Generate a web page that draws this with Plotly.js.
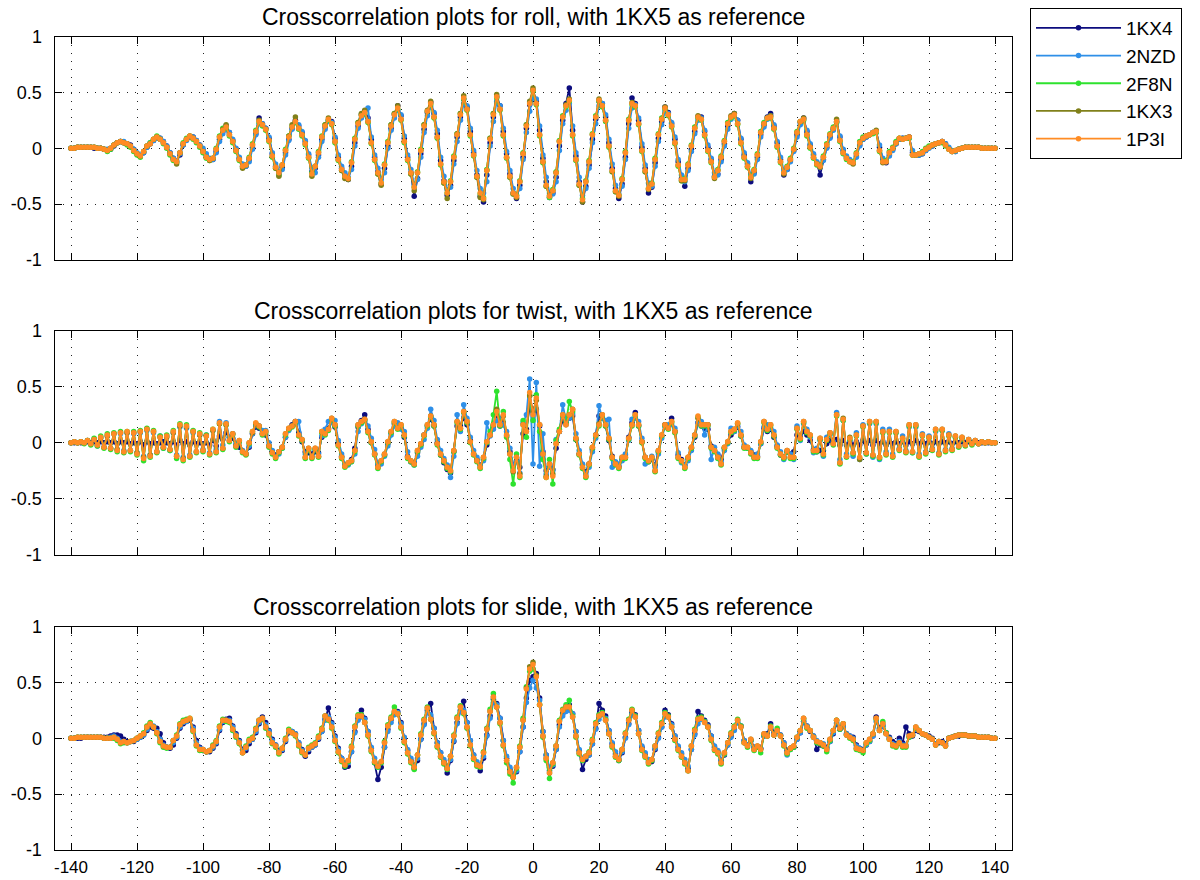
<!DOCTYPE html>
<html><head><meta charset="utf-8">
<script src="https://cdn.plot.ly/plotly-3.0.1.min.js"></script>
<style>body{margin:0;background:#fff}#chart{width:1200px;height:880px}</style>
</head><body><div id="chart"></div>
<script>
// lag axis (integer lags -140..140)
const lags = [];
for (let i = -140; i <= 140; i++) lags.push(i);

const seriesNames = ['1KX4', '2NZD', '2F8N', '1KX3', '1P3I'];
const panelTitles = [
  'Crosscorrelation plots for roll, with 1KX5 as reference',
  'Crosscorrelation plots for twist, with 1KX5 as reference',
  'Crosscorrelation plots for slide, with 1KX5 as reference'
];
const xTickVals = [-140,-120,-100,-80,-60,-40,-20,0,20,40,60,80,100,120,140];
const xTickText = ['-140','-120','-100','-80','-60','-40','-20','0','20','40','60','80','100','120','140'];
const yTickVals = [-1,-0.5,0,0.5,1];
const yTickText = ['-1','-0.5','0','0.5','1'];

// ---------- ROLL ----------
const roll_1KX4 = [
0,0,.01,.01,.01,.01,.01,0,0,0,
-.01,-.02,-.01,.02,.05,.06,.05,.04,.03,-.01,
-.05,-.07,-.04,.01,.04,.07,.10,.09,.06,.02,
-.04,-.09,-.12,-.06,.03,.08,.10,.10,.07,.03,
-.02,-.07,-.10,-.10,-.03,.08,.15,.20,.14,.07,
-.01,-.09,-.16,-.16,-.10,.01,.13,.27,.22,.18,
.09,-.05,-.16,-.23,-.17,-.04,.08,.18,.25,.20,
.14,.06,-.06,-.21,-.18,-.06,.08,.19,.25,.24,
.09,-.08,-.18,-.24,-.28,-.16,.05,.20,.30,.33,
.27,.08,-.08,-.21,-.32,-.18,.02,.18,.30,.38,
.29,.09,-.08,-.22,-.43,-.27,-.05,.17,.32,.41,
.31,.13,-.11,-.29,-.42,-.33,-.11,.10,.28,.44,
.37,.15,-.04,-.24,-.43,-.48,-.24,.05,.28,.46,
.38,.15,-.05,-.23,-.40,-.45,-.33,-.08,.18,.39,
.52,
.42,.16,-.09,-.30,-.44,-.40,-.26,.02,.25,.40,
.54,.16,-.07,-.30,-.48,-.34,-.15,.08,.26,.42,
.40,.28,.05,-.18,-.36,-.45,-.32,-.08,.22,.45,
.40,.25,.01,-.18,-.40,-.35,-.13,.09,.24,.37,
.32,.22,.08,-.12,-.27,-.34,-.18,-.01,.15,.28,
.28,.15,.01,-.10,-.25,-.23,-.10,.04,.20,.28,
.31,.25,.08,-.06,-.14,-.30,-.22,-.08,.12,.21,
.28,.31,.20,.05,-.10,-.24,-.19,-.11,-.02,.12,
.23,.27,.15,.03,-.06,-.13,-.24,-.10,.01,.10,
.17,.24,.10,-.02,-.08,-.11,-.13,-.07,.03,.08,
.10,.12,.14,.15,.01,-.10,-.13,-.06,-.01,.04,
.08,.09,.09,.10,-.04,-.06,-.06,-.05,-.02,.01,
.02,.04,.05,.06,.04,0,-.03,-.03,-.01,0,
.01,.01,.01,.01,.01,0,0,0,0,0];
const roll_2NZD = [
0,0,.01,.01,.01,.01,.01,.01,0,0,
-.01,-.01,0,.03,.05,.06,.06,.04,.02,-.01,
-.04,-.06,-.04,.01,.05,.07,.09,.09,.06,.02,
-.04,-.09,-.11,-.05,.03,.07,.10,.10,.07,.03,
0,-.05,-.09,-.10,-.04,.06,.13,.17,.14,.08,
0,-.08,-.14,-.16,-.12,-.01,.12,.22,.22,.18,
.10,-.04,-.14,-.21,-.19,-.06,.07,.17,.23,.21,
.15,.07,-.05,-.18,-.22,-.08,.06,.17,.24,.23,
.10,-.06,-.16,-.22,-.26,-.19,.02,.18,.27,.30,
.36,.10,-.06,-.18,-.28,-.22,0,.16,.27,.34,
.30,.11,-.06,-.19,-.32,-.28,-.08,.14,.29,.37,
.32,.16,-.08,-.25,-.37,-.35,-.14,.06,.25,.40,
.38,.18,-.02,-.20,-.36,-.40,-.30,.02,.24,.42,
.38,.18,-.03,-.20,-.36,-.42,-.36,-.10,.14,.33,
.45,
.44,.20,-.06,-.26,-.40,-.41,-.30,-.02,.22,.34,
.40,.20,-.04,-.26,-.42,-.36,-.18,.05,.22,.38,
.40,.30,.08,-.14,-.33,-.41,-.34,-.10,.18,.36,
.39,.27,.04,-.15,-.31,-.34,-.16,.06,.21,.33,
.31,.23,.10,-.10,-.24,-.30,-.20,-.03,.13,.25,
.27,.16,.03,-.09,-.22,-.24,-.12,.02,.17,.26,
.29,.25,.09,-.04,-.13,-.24,-.23,-.10,.10,.19,
.26,.29,.21,.06,-.08,-.20,-.19,-.12,-.03,.10,
.21,.26,.16,.04,-.05,-.12,-.17,-.11,0,.09,
.16,.23,.11,-.01,-.07,-.10,-.13,-.08,.02,.08,
.10,.12,.14,.14,.03,-.09,-.12,-.07,-.02,.04,
.08,.09,.09,.09,-.02,-.06,-.06,-.05,-.02,0,
.02,.04,.05,.06,.04,.01,-.02,-.03,-.01,0,
.01,.01,.01,.01,.01,0,0,0,0,0];
const roll_2F8N = [
0,0,.01,.01,.01,.01,.01,.01,0,0,
-.01,-.03,-.01,.03,.05,.06,.05,.03,.01,-.03,
-.06,-.08,-.03,.02,.05,.08,.11,.08,.04,0,
-.06,-.11,-.13,-.04,.05,.09,.11,.08,.05,.01,
-.04,-.09,-.11,-.09,0,.11,.18,.18,.11,.05,
-.03,-.11,-.17,-.15,-.08,.04,.16,.23,.20,.16,
.06,-.08,-.18,-.24,-.15,-.01,.11,.20,.23,.17,
.11,.03,-.09,-.22,-.16,-.03,.11,.21,.25,.21,
.05,-.11,-.20,-.26,-.27,-.12,.09,.23,.30,.31,
.23,.04,-.11,-.23,-.31,-.14,.06,.21,.31,.35,
.25,.05,-.11,-.23,-.35,-.21,-.01,.21,.33,.39,
.27,.09,-.15,-.31,-.40,-.29,-.07,.13,.31,.44,
.34,.11,-.07,-.26,-.41,-.44,-.19,.09,.31,.45,
.34,.11,-.09,-.26,-.41,-.42,-.29,-.04,.21,.41,
.51,
.39,.11,-.13,-.34,-.44,-.37,-.21,.07,.29,.37,
.42,.11,-.11,-.33,-.45,-.29,-.11,.13,.29,.42,
.37,.24,.01,-.21,-.39,-.42,-.27,-.03,.26,.39,
.37,.21,-.03,-.21,-.36,-.31,-.09,.13,.27,.35,
.29,.19,.04,-.16,-.29,-.27,-.14,.03,.19,.27,
.25,.11,-.03,-.13,-.26,-.19,-.07,.07,.23,.27,
.29,.21,.04,-.09,-.17,-.25,-.19,-.05,.15,.23,
.27,.27,.17,.01,-.13,-.22,-.16,-.09,0,.15,
.24,.25,.11,0,-.09,-.15,-.15,-.07,.04,.13,
.19,.23,.06,-.05,-.10,-.12,-.12,-.04,.06,.10,
.11,.12,.13,.14,-.03,-.12,-.11,-.03,.01,.06,
.09,.08,.09,.09,-.06,-.06,-.05,-.03,0,.02,
.03,.04,.05,.05,.02,-.01,-.03,-.02,-.01,0,
.01,.01,.01,.01,.01,0,0,0,0,0];
const roll_1KX3 = [
0,0,.01,.01,.01,.01,.01,.01,0,0,
-.01,-.02,0,.03,.05,.06,.05,.04,.02,-.02,
-.05,-.07,-.03,.02,.04,.08,.10,.08,.05,.01,
-.05,-.10,-.14,-.04,.04,.08,.11,.09,.06,.02,
-.03,-.08,-.11,-.09,-.01,.10,.17,.21,.12,.06,
-.02,-.10,-.18,-.15,-.09,.03,.15,.25,.21,.17,
.07,-.07,-.18,-.25,-.15,-.02,.11,.21,.28,.18,
.12,.04,-.08,-.25,-.16,-.04,.10,.21,.27,.22,
.06,-.10,-.20,-.27,-.28,-.13,.08,.23,.31,.34,
.24,.05,-.10,-.23,-.33,-.15,.05,.21,.31,.38,
.26,.06,-.10,-.23,-.38,-.22,-.02,.21,.34,.42,
.28,.10,-.14,-.31,-.45,-.30,-.08,.13,.31,.47,
.35,.12,-.06,-.26,-.44,-.46,-.20,.09,.31,.48,
.35,.12,-.08,-.26,-.41,-.44,-.30,-.05,.21,.42,
.54,
.40,.12,-.12,-.34,-.42,-.38,-.22,.06,.28,.39,
.44,.12,-.10,-.33,-.48,-.30,-.12,.12,.28,.44,
.38,.25,.02,-.21,-.39,-.43,-.28,-.04,.25,.41,
.38,.22,-.02,-.21,-.37,-.32,-.10,.12,.26,.37,
.30,.20,.05,-.15,-.29,-.29,-.15,.02,.18,.29,
.26,.12,-.02,-.12,-.27,-.20,-.08,.06,.22,.29,
.31,.22,.05,-.08,-.16,-.27,-.20,-.06,.14,.22,
.27,.29,.18,.02,-.12,-.23,-.17,-.10,-.01,.14,
.24,.27,.12,.01,-.08,-.14,-.17,-.08,.03,.12,
.18,.26,.07,-.04,-.09,-.12,-.14,-.05,.05,.09,
.11,.12,.14,.16,-.02,-.13,-.12,-.04,0,.05,
.09,.08,.09,.10,-.06,-.06,-.05,-.04,-.01,.01,
.03,.04,.05,.06,.03,-.01,-.03,-.02,-.01,0,
.01,.01,.01,.01,.01,0,0,0,0,0];
const roll_1P3I = [
0,0,.01,.01,.01,.01,.01,.01,0,0,
-.01,-.02,0,.03,.05,.06,.05,.04,.02,-.02,
-.05,-.07,-.03,.02,.04,.08,.10,.08,.05,.01,
-.05,-.10,-.12,-.04,.04,.08,.11,.09,.06,.02,
-.03,-.08,-.10,-.09,-.01,.10,.16,.19,.12,.06,
-.02,-.10,-.16,-.15,-.09,.03,.15,.24,.21,.17,
.07,-.07,-.17,-.22,-.15,-.02,.10,.19,.24,.18,
.12,.04,-.08,-.23,-.16,-.04,.10,.20,.26,.22,
.06,-.10,-.19,-.25,-.27,-.13,.08,.22,.29,.32,
.24,.05,-.10,-.22,-.31,-.15,.05,.20,.30,.36,
.26,.06,-.10,-.22,-.35,-.22,-.02,.20,.33,.40,
.28,.10,-.14,-.30,-.40,-.30,-.08,.12,.30,.45,
.35,.12,-.06,-.25,-.40,-.45,-.20,.08,.30,.46,
.35,.12,-.08,-.25,-.40,-.43,-.30,-.05,.20,.40,
.52,
.40,.12,-.12,-.33,-.43,-.38,-.22,.06,.28,.38,
.43,.12,-.10,-.32,-.46,-.30,-.12,.12,.28,.43,
.38,.25,.02,-.20,-.38,-.42,-.28,-.04,.25,.40,
.38,.22,-.02,-.20,-.36,-.32,-.10,.12,.26,.36,
.30,.20,.05,-.15,-.28,-.28,-.15,.02,.18,.28,
.26,.12,-.02,-.12,-.26,-.20,-.08,.06,.22,.28,
.30,.22,.05,-.08,-.16,-.26,-.20,-.06,.14,.22,
.27,.28,.18,.02,-.12,-.22,-.17,-.10,-.01,.14,
.24,.26,.12,.01,-.08,-.14,-.16,-.08,.03,.12,
.18,.24,.07,-.04,-.09,-.12,-.13,-.05,.05,.09,
.11,.12,.14,.15,-.02,-.12,-.12,-.04,0,.05,
.09,.08,.09,.10,-.06,-.06,-.05,-.04,-.01,.01,
.03,.04,.05,.06,.03,-.01,-.03,-.02,-.01,0,
.01,.01,.01,.01,.01,0,0,0,0,0];

// ---------- TWIST ----------
const twist_1KX4 = [
0,0,0,0,0,.01,0,.01,0,.01,
0,.01,0,.01,-.01,.01,0,.01,-.01,0,
-.01,.01,-.02,.01,-.01,0,-.01,0,.01,0,
-.01,.01,-.02,.02,-.01,.01,-.02,.01,-.01,0,
-.01,0,-.02,.02,-.03,.06,.03,.09,.05,.04,
-.02,-.04,-.08,-.10,-.04,.08,.14,.13,.08,.07,
-.03,-.08,-.11,-.08,-.04,.05,.12,.16,.19,.09,
.01,-.08,-.09,-.10,-.08,-.09,.05,.09,.13,.19,
.14,-.01,-.12,-.20,-.19,-.15,-.05,.14,.20,.25,
.12,0,-.10,-.20,-.17,-.11,-.01,.09,.17,.15,
.13,.05,-.12,-.17,-.18,-.09,-.02,.07,.15,.21,
.15,0,-.11,-.18,-.24,-.27,-.08,.15,.15,.22,
.16,.02,-.10,-.15,-.20,-.15,-.02,.07,.15,.22,
.15,.18,.06,-.08,-.20,-.16,-.22,.08,.12,.32,
.30,
.30,.15,-.08,-.25,-.21,-.24,-.05,.10,.20,.18,
.22,.24,.03,-.10,-.20,-.26,-.19,-.06,.07,.24,
.22,.15,.02,-.12,-.18,-.21,-.15,-.11,.05,.18,
.27,.15,.01,-.13,-.17,-.15,-.20,-.08,.06,.16,
.15,.22,.10,-.11,-.15,-.20,-.14,-.05,.05,.18,
.15,.13,.12,-.03,-.07,-.11,-.15,-.05,0,.07,
.10,.14,.06,-.04,-.05,-.08,-.11,-.12,-.01,.13,
.10,.12,.05,-.03,-.11,-.13,-.08,-.10,-.08,.07,
.05,.10,.07,.02,-.06,-.08,-.07,-.07,-.01,.02,
0,.03,-.02,.02,-.02,.01,-.02,.01,-.02,.02,
-.01,.02,-.02,.02,-.01,.01,-.02,.01,-.01,.01,
-.01,.01,-.02,.01,-.01,.02,-.01,.01,-.01,.01,
-.01,.01,-.01,.01,0,.01,-.01,.01,0,.01,
0,.01,0,.01,0,0,0,0,0,0];
const twist_2NZD = [
0,.01,0,.01,0,.02,-.01,.03,-.03,.05,
-.04,.06,-.05,.08,-.06,.08,-.07,.09,-.07,.08,
-.09,.09,-.12,.11,-.11,.09,-.08,.06,-.05,.06,
-.07,.09,-.11,.14,-.13,.13,-.11,.09,-.08,.07,
-.06,.07,-.09,.11,-.06,.19,-.02,.18,.05,.08,
-.01,.01,-.07,-.10,-.03,.08,.16,.15,.11,.11,
0,-.07,-.12,-.10,-.05,.05,.11,.15,.17,.19,
.02,-.10,-.07,-.12,-.06,-.10,.06,.12,.19,.18,
.20,.02,-.10,-.20,-.20,-.17,-.10,.10,.17,.20,
.15,.04,-.06,-.19,-.19,-.12,-.03,.07,.15,.18,
.12,.10,-.08,-.17,-.20,-.12,-.04,.03,.13,.30,
.20,.03,-.07,-.14,-.20,-.31,-.12,.25,.10,.34,
.22,.05,-.07,-.13,-.20,-.16,.18,.06,.12,.20,
.22,.16,.10,-.05,-.20,-.17,-.27,.18,.25,.57,
-.19,
.54,-.21,.08,-.28,-.22,-.25,.03,.10,.34,.20,
.22,.26,.08,-.07,-.19,-.28,-.22,-.08,.04,.33,
.22,.20,.21,-.22,-.17,-.19,-.16,-.10,.02,.21,
.22,.19,.04,-.19,-.16,-.12,-.22,-.10,.04,.14,
.16,.16,.13,-.09,-.18,-.20,-.16,-.07,.07,.18,
.19,.07,.16,-.15,-.04,-.10,-.17,-.07,-.01,.13,
.10,.15,.10,-.02,-.05,-.07,-.12,-.10,-.01,.14,
.16,.13,.10,-.02,-.08,-.15,-.08,-.10,-.15,.15,
.02,.17,.12,.05,-.09,-.05,.02,-.12,.05,.07,
.01,.27,-.15,.20,-.10,.02,-.12,.09,-.15,.16,
-.10,.17,-.13,.17,-.15,.12,-.08,.12,-.10,.09,
-.05,.06,-.07,.14,-.09,.14,-.10,.08,-.08,.06,
-.05,.10,-.09,.11,-.06,.08,-.05,.05,-.03,.04,
-.02,.03,-.01,.02,-.01,.01,0,.01,0,0];
const twist_2F8N = [
0,.01,0,.01,-.01,.02,-.02,.04,-.03,.06,
-.05,.08,-.06,.09,-.08,.10,-.09,.10,-.08,.10,
-.11,.11,-.16,.13,-.13,.11,-.09,.06,-.05,.07,
-.07,.11,-.14,.17,-.16,.16,-.13,.11,-.09,.09,
-.08,.07,-.11,.12,-.09,.17,-.06,.16,.01,.07,
-.04,.01,-.09,-.11,-.01,.10,.17,.14,.07,.09,
-.04,-.10,-.14,-.09,-.05,.07,.12,.14,.18,.06,
.02,-.14,-.06,-.14,-.06,-.13,.09,.07,.11,.21,
.15,-.03,-.14,-.22,-.19,-.17,-.08,.15,.18,.20,
.09,0,-.11,-.23,-.17,-.11,0,.09,.18,.12,
.15,.06,-.14,-.17,-.20,-.08,-.02,.06,.15,.23,
.15,-.02,-.11,-.17,-.23,-.26,-.08,.18,.12,.27,
.18,0,-.11,-.17,-.23,-.14,0,.10,.25,.46,
.15,.28,.05,-.15,-.37,-.10,-.31,.20,.05,.42,
.20,
.43,.10,-.15,-.31,-.15,-.37,.02,.12,.24,.18,
.37,.28,.03,-.11,-.23,-.31,-.20,-.05,.06,.15,
.24,.15,.03,-.14,-.20,-.23,-.14,-.14,.03,.15,
.24,.15,0,-.14,-.17,-.14,-.26,-.08,.06,.15,
.12,.18,.09,-.14,-.17,-.23,-.14,-.05,.06,.23,
.15,.15,.15,-.05,-.08,-.14,-.20,-.05,0,.09,
.11,.17,.06,-.05,-.05,-.10,-.14,-.14,0,.18,
.11,.15,.06,-.05,-.11,-.14,-.08,-.14,-.14,.12,
.03,.18,.09,.06,-.08,-.08,.03,-.11,.02,.08,
-.02,.24,-.19,.20,-.13,.03,-.10,.06,-.14,.14,
-.10,.18,-.12,.18,-.14,.09,-.11,.09,-.13,.09,
-.07,.03,-.09,.15,-.09,.15,-.13,.06,-.10,.04,
-.07,.11,-.11,.11,-.08,.06,-.07,.05,-.04,.04,
-.03,.02,-.02,.01,-.01,.01,0,.01,0,0];
const twist_1KX3 = [
0,.01,0,.01,0,.02,-.01,.03,-.02,.04,
-.04,.06,-.05,.08,-.06,.09,-.08,.09,-.07,.09,
-.09,.10,-.13,.12,-.11,.10,-.08,.05,-.04,.05,
-.06,.09,-.12,.15,-.14,.14,-.12,.10,-.08,.07,
-.07,.06,-.10,.11,-.08,.17,-.05,.16,.02,.08,
-.03,.02,-.08,-.10,0,.09,.17,.15,.08,.10,
-.03,-.09,-.13,-.08,-.04,.08,.13,.15,.19,.07,
.03,-.13,-.05,-.13,-.05,-.12,.10,.08,.12,.22,
.16,-.02,-.13,-.21,-.18,-.16,-.07,.16,.19,.21,
.10,.01,-.10,-.22,-.16,-.10,.01,.10,.19,.13,
.16,.07,-.13,-.16,-.19,-.07,-.01,.07,.16,.24,
.16,-.01,-.10,-.16,-.22,-.25,-.07,.19,.13,.28,
.19,.01,-.10,-.16,-.22,-.13,.01,.07,.16,.30,
.16,.24,.07,-.10,-.26,-.13,-.28,.16,.10,.42,
.28,
.38,.16,-.10,-.30,-.19,-.28,-.01,.10,.25,.16,
.25,.30,.04,-.10,-.22,-.30,-.19,-.04,.07,.17,
.25,.16,.04,-.13,-.19,-.22,-.13,-.13,.04,.16,
.25,.16,.01,-.13,-.16,-.13,-.25,-.07,.07,.16,
.13,.19,.10,-.13,-.16,-.22,-.13,-.04,.07,.22,
.16,.16,.16,-.04,-.07,-.13,-.19,-.04,.01,.10,
.12,.17,.07,-.04,-.04,-.09,-.13,-.13,.01,.19,
.12,.16,.07,-.04,-.10,-.13,-.07,-.13,-.13,.13,
.04,.19,.10,.07,-.07,-.07,.04,-.10,.03,.09,
-.01,.25,-.18,.22,-.12,.05,-.09,.07,-.15,.15,
-.09,.19,-.11,.19,-.13,.10,-.10,.10,-.12,.10,
-.06,.04,-.08,.16,-.08,.16,-.12,.07,-.09,.05,
-.06,.12,-.10,.12,-.07,.07,-.06,.06,-.03,.05,
-.02,.03,-.01,.02,-.01,.01,0,.01,0,0];
const twist_1P3I = [
0,.01,0,.01,0,.02,-.01,.03,-.02,.05,
-.04,.07,-.05,.08,-.07,.09,-.08,.10,-.07,.09,
-.10,.10,-.14,.12,-.12,.10,-.08,.05,-.04,.06,
-.06,.10,-.12,.16,-.15,.15,-.12,.10,-.08,.08,
-.07,.06,-.10,.12,-.08,.18,-.05,.17,.02,.08,
-.03,.02,-.08,-.10,0,.10,.18,.15,.08,.10,
-.03,-.09,-.13,-.08,-.04,.08,.13,.15,.19,.07,
.03,-.13,-.05,-.13,-.05,-.12,.10,.08,.12,.22,
.16,-.02,-.13,-.21,-.18,-.16,-.07,.16,.19,.21,
.10,.01,-.10,-.22,-.16,-.10,.01,.10,.19,.13,
.16,.07,-.13,-.16,-.19,-.07,-.01,.07,.16,.24,
.16,-.01,-.10,-.16,-.22,-.25,-.07,.19,.13,.28,
.19,.01,-.10,-.16,-.22,-.13,.01,.07,.16,.28,
.16,.25,.07,-.10,-.25,-.13,-.30,.16,.10,.45,
.25,
.40,.16,-.10,-.31,-.19,-.30,-.01,.10,.25,.16,
.25,.30,.04,-.10,-.22,-.30,-.19,-.04,.07,.16,
.25,.16,.04,-.13,-.19,-.22,-.13,-.13,.04,.16,
.25,.16,.01,-.13,-.16,-.13,-.25,-.07,.07,.16,
.13,.19,.10,-.13,-.16,-.22,-.13,-.04,.07,.24,
.16,.16,.16,-.04,-.07,-.13,-.19,-.04,.01,.10,
.12,.18,.07,-.04,-.04,-.09,-.13,-.13,.01,.19,
.12,.16,.07,-.04,-.10,-.13,-.07,-.13,-.13,.13,
.04,.19,.10,.07,-.07,-.07,.04,-.10,.03,.09,
-.01,.25,-.18,.21,-.12,.04,-.09,.07,-.13,.15,
-.09,.19,-.11,.19,-.13,.10,-.10,.10,-.12,.10,
-.06,.04,-.08,.16,-.08,.16,-.12,.07,-.09,.05,
-.06,.12,-.10,.12,-.07,.07,-.06,.06,-.03,.05,
-.02,.03,-.01,.02,-.01,.01,0,.01,0,0];

// ---------- SLIDE ----------
const slide_1KX4 = [
0,0,0,0,.01,.01,.01,.01,.01,.01,
.01,.01,.02,.03,.03,.02,-.01,-.03,-.03,-.03,
-.01,.01,.03,.07,.10,.09,.09,.04,-.04,-.08,
-.09,-.06,0,.09,.13,.15,.16,.10,-.02,-.08,
-.11,-.12,-.12,-.09,-.05,.07,.14,.17,.18,.11,
.04,-.02,-.10,-.11,-.05,-.01,.05,.13,.19,.14,
.07,-.01,-.06,-.11,-.11,-.03,.05,.06,.04,-.04,
-.10,-.16,-.12,-.08,-.06,-.01,.06,.17,.27,.14,
.02,-.09,-.18,-.26,-.25,-.12,.06,.18,.25,.18,
.06,-.09,-.22,-.37,-.26,-.08,.08,.17,.22,.24,
.14,0,-.11,-.20,-.27,-.20,-.01,.13,.25,.31,
.09,-.04,-.13,-.21,-.31,-.20,-.03,.14,.25,.33,
.14,-.02,-.15,-.23,-.29,-.18,.03,.20,.35,.31,
.18,-.02,-.18,-.28,-.34,-.30,-.12,.10,.36,.52,
.55,
.58,.36,.06,-.15,-.29,-.25,-.10,.12,.22,.28,
.30,.22,.06,-.11,-.28,-.19,-.15,-.05,.09,.31,
.25,.20,.07,-.05,-.14,-.20,-.13,.01,.13,.23,
.21,.07,-.08,-.15,-.21,-.21,-.10,.01,.10,.25,
.21,.13,.02,-.08,-.14,-.22,-.27,-.10,.04,.24,
.20,.16,.12,.02,-.08,-.12,-.20,-.15,-.06,.02,
.08,.14,.11,-.02,-.06,-.02,-.08,-.08,-.09,.02,
.04,.13,.05,.06,.03,-.04,-.11,-.09,-.08,-.01,
.05,.15,.11,.06,.02,-.10,-.06,-.07,-.08,-.03,
.04,.13,.08,.11,.04,.02,.01,-.06,-.09,-.10,
-.06,-.03,.02,.19,.09,.11,.05,.01,-.03,-.05,
0,-.04,.10,.04,.02,.07,.06,.04,.03,.02,
0,-.05,-.04,-.03,-.05,0,.01,.02,.02,.03,
.03,.02,.02,.02,.01,.01,.01,.01,0,0];
const slide_2NZD = [
0,0,.01,.01,.01,.01,.01,.01,.01,.01,
0,0,.01,.02,0,-.03,-.03,-.04,-.03,-.02,
-.01,.01,.03,.08,.12,.11,.06,-.01,-.06,-.08,
-.08,-.04,.01,.10,.14,.15,.17,.09,-.04,-.09,
-.10,-.12,-.11,-.08,-.04,.08,.15,.16,.16,.10,
.03,-.03,-.11,-.09,-.03,-.01,.06,.14,.18,.12,
.06,-.02,-.06,-.12,-.10,-.02,.06,.06,.04,-.04,
-.11,-.14,-.10,-.08,-.06,0,.06,.16,.19,.13,
.01,-.10,-.18,-.22,-.22,-.12,.05,.16,.19,.17,
.06,-.08,-.18,-.26,-.22,-.08,.06,.14,.21,.23,
.13,.01,-.10,-.18,-.24,-.18,-.01,.12,.23,.21,
.09,-.04,-.13,-.19,-.25,-.19,-.02,.13,.24,.25,
.14,-.02,-.15,-.21,-.24,-.16,.02,.18,.32,.30,
.18,-.02,-.16,-.26,-.32,-.29,-.12,.10,.32,.45,
.52,
.45,.34,.06,-.15,-.26,-.24,-.10,.10,.20,.24,
.25,.22,.06,-.10,-.18,-.17,-.15,-.05,.08,.17,
.21,.18,.07,-.04,-.12,-.18,-.12,0,.12,.21,
.20,.07,-.07,-.13,-.19,-.19,-.09,0,.10,.19,
.19,.12,.02,-.07,-.13,-.19,-.25,-.10,.03,.13,
.17,.15,.11,.02,-.07,-.11,-.19,-.14,-.06,.01,
.07,.14,.11,-.02,-.06,-.03,-.08,-.08,-.09,.02,
.03,.09,.04,.06,.03,-.04,-.15,-.10,-.08,-.01,
.05,.15,.11,.07,.02,-.02,-.04,-.05,-.09,-.03,
.05,.14,.09,.11,.04,.02,0,-.07,-.09,-.11,
-.06,-.03,.02,.15,.08,.11,.05,0,-.05,-.06,
-.03,-.06,-.06,.01,.03,.08,.07,.04,.03,.01,
-.01,-.05,-.03,-.04,-.06,0,.01,.02,.03,.03,
.03,.02,.02,.02,.01,.01,.01,.01,0,0];
const slide_2F8N = [
0,0,.01,.01,.01,.01,.01,.01,.01,.01,
0,0,0,0,-.02,-.05,-.04,-.04,-.03,-.02,
0,.02,.05,.11,.14,.10,.04,-.04,-.08,-.09,
-.08,-.02,.03,.13,.16,.17,.18,.06,-.07,-.11,
-.11,-.12,-.11,-.06,-.02,.11,.17,.15,.14,.07,
.01,-.05,-.13,-.07,-.01,.01,.09,.16,.17,.09,
.03,-.05,-.08,-.14,-.09,0,.08,.05,.02,-.07,
-.13,-.15,-.08,-.06,-.04,.02,.09,.20,.16,.09,
-.03,-.13,-.21,-.25,-.21,-.07,.11,.21,.21,.14,
.02,-.12,-.22,-.26,-.22,-.03,.12,.19,.28,.22,
.09,-.04,-.14,-.22,-.28,-.15,.04,.17,.28,.17,
.04,-.08,-.17,-.23,-.28,-.16,.03,.19,.29,.22,
.09,-.07,-.19,-.25,-.26,-.12,.09,.26,.40,.28,
.13,-.07,-.22,-.32,-.40,-.27,-.07,.18,.46,.60,
.62,
.56,.30,.01,-.20,-.36,-.23,-.07,.16,.26,.30,
.34,.20,.01,-.14,-.20,-.16,-.12,-.01,.14,.21,
.23,.17,.04,-.08,-.17,-.20,-.10,.05,.17,.26,
.20,.04,-.11,-.17,-.23,-.20,-.07,.05,.14,.23,
.20,.10,-.02,-.11,-.17,-.23,-.29,-.07,.08,.18,
.19,.15,.10,-.02,-.11,-.14,-.23,-.14,-.04,.05,
.11,.17,.11,-.04,-.08,-.02,-.11,-.08,-.13,.03,
.02,.11,.03,.09,.02,-.07,-.14,-.10,-.08,.01,
.07,.17,.09,.07,.01,-.04,-.05,-.07,-.12,-.02,
.07,.16,.08,.13,.03,0,-.02,-.10,-.11,-.13,
-.05,-.02,.04,.17,.07,.15,.05,-.01,-.07,-.08,
-.05,-.08,-.08,.01,.03,.09,.07,.04,.03,.01,
-.01,-.06,-.03,-.04,-.07,0,.01,.02,.03,.03,
.03,.02,.02,.02,.01,.01,.01,.01,0,0];
const slide_1KX3 = [
0,0,.01,.01,.01,.01,.01,.01,.01,.01,
0,0,0,.01,-.01,-.04,-.03,-.04,-.03,-.02,
0,.02,.04,.10,.13,.10,.05,-.03,-.07,-.08,
-.08,-.02,.02,.12,.15,.16,.17,.07,-.06,-.10,
-.10,-.12,-.11,-.07,-.03,.10,.16,.16,.15,.08,
.02,-.04,-.13,-.08,-.02,0,.08,.16,.18,.10,
.04,-.04,-.07,-.13,-.09,-.01,.07,.05,.03,-.06,
-.12,-.15,-.09,-.07,-.05,.01,.08,.20,.17,.10,
-.02,-.12,-.20,-.24,-.20,-.08,.10,.20,.20,.14,
.03,-.11,-.21,-.25,-.21,-.04,.11,.18,.24,.22,
.10,-.03,-.13,-.21,-.26,-.15,.03,.16,.27,.17,
.05,-.07,-.16,-.22,-.27,-.16,.02,.18,.28,.23,
.10,-.06,-.18,-.24,-.25,-.13,.08,.24,.37,.28,
.14,-.06,-.20,-.30,-.35,-.26,-.08,.16,.45,.64,
.68,
.56,.30,.02,-.18,-.31,-.22,-.07,.15,.25,.28,
.28,.19,.02,-.13,-.19,-.16,-.13,-.02,.13,.20,
.22,.16,.04,-.07,-.16,-.19,-.10,.04,.16,.25,
.19,.04,-.10,-.16,-.22,-.19,-.07,.04,.13,.22,
.19,.10,-.01,-.10,-.16,-.22,-.29,-.07,.07,.17,
.18,.14,.10,-.01,-.10,-.13,-.22,-.13,-.04,.04,
.10,.16,.10,-.04,-.07,-.01,-.10,-.07,-.10,.04,
.02,.10,.03,.07,.02,-.06,-.13,-.09,-.07,.01,
.07,.18,.10,.07,.01,-.03,-.04,-.06,-.10,-.01,
.07,.16,.09,.13,.03,.01,-.01,-.09,-.10,-.11,
-.04,-.01,.04,.18,.07,.13,.04,-.01,-.06,-.07,
-.04,-.07,-.07,.02,.03,.10,.07,.04,.03,.01,
-.01,-.06,-.03,-.04,-.07,0,.01,.02,.03,.03,
.03,.02,.02,.02,.01,.01,.01,.01,0,0];
const slide_1P3I = [
0,0,.01,.01,.01,.01,.01,.01,.01,.01,
0,0,0,.01,-.01,-.04,-.03,-.04,-.03,-.02,
0,.02,.04,.10,.13,.10,.05,-.03,-.07,-.08,
-.08,-.02,.02,.12,.15,.16,.18,.07,-.06,-.10,
-.10,-.12,-.11,-.07,-.03,.10,.16,.16,.15,.08,
.02,-.04,-.13,-.08,-.02,0,.08,.16,.18,.10,
.04,-.04,-.07,-.13,-.09,-.01,.07,.05,.03,-.06,
-.12,-.15,-.09,-.07,-.05,.01,.08,.20,.17,.10,
-.02,-.12,-.20,-.24,-.20,-.08,.10,.20,.20,.14,
.03,-.11,-.21,-.25,-.21,-.04,.11,.18,.24,.22,
.10,-.03,-.13,-.21,-.26,-.15,.03,.16,.27,.17,
.05,-.07,-.16,-.22,-.27,-.16,.02,.18,.28,.23,
.10,-.06,-.18,-.24,-.25,-.13,.08,.24,.37,.28,
.14,-.06,-.20,-.30,-.35,-.26,-.08,.16,.44,.62,
.66,
.55,.30,.02,-.18,-.31,-.22,-.07,.15,.25,.28,
.28,.19,.02,-.13,-.19,-.16,-.13,-.02,.13,.20,
.22,.16,.04,-.07,-.16,-.19,-.10,.04,.16,.25,
.19,.04,-.10,-.16,-.22,-.19,-.07,.04,.13,.22,
.19,.10,-.01,-.10,-.16,-.22,-.29,-.07,.07,.17,
.18,.14,.10,-.01,-.10,-.13,-.22,-.13,-.04,.04,
.10,.16,.10,-.04,-.07,-.01,-.10,-.07,-.10,.04,
.02,.10,.03,.07,.02,-.06,-.13,-.09,-.07,.01,
.07,.18,.10,.07,.01,-.03,-.04,-.06,-.10,-.01,
.07,.16,.09,.13,.03,.01,-.01,-.09,-.10,-.11,
-.04,-.01,.04,.18,.07,.13,.04,-.01,-.06,-.07,
-.04,-.07,-.07,.02,.03,.10,.07,.04,.03,.01,
-.01,-.06,-.03,-.04,-.07,0,.01,.02,.03,.03,
.03,.02,.02,.02,.01,.01,.01,.01,0,0];

const panels = [
  [roll_1KX4, roll_2NZD, roll_2F8N, roll_1KX3, roll_1P3I],
  [twist_1KX4, twist_2NZD, twist_2F8N, twist_1KX3, twist_1P3I],
  [slide_1KX4, slide_2NZD, slide_2F8N, slide_1KX3, slide_1P3I]
];

// ---------- styling ----------
const colors = ['#0c0c7e', '#2e8fe8', '#2ee22e', '#80801a', '#ff8c24'];
const W = 1200, H = 880;
const plotLeft = 54.5, plotRight = 1011.5;
const panelPx = [[36.5, 260], [331, 554.5], [626.5, 850]];
const FONT = 'Liberation Sans, Arial, Helvetica, sans-serif';

const traces = [];
panels.forEach((set, p) => {
  set.forEach((vals, s) => {
    traces.push({
      type: 'scatter', mode: 'lines+markers',
      x: lags, y: vals, name: seriesNames[s],
      xaxis: p === 0 ? 'x' : 'x' + (p + 1),
      yaxis: p === 0 ? 'y' : 'y' + (p + 1),
      line: {color: colors[s], width: 1.8},
      marker: {color: colors[s], size: 5.5, symbol: 'circle'},
      showlegend: p === 0,
      legendgroup: seriesNames[s],
      hoverinfo: 'x+y+name'
    });
  });
});

const layout = {
  width: W, height: H,
  paper_bgcolor: '#fff', plot_bgcolor: '#fff',
  margin: {l: 0, r: 0, t: 0, b: 0},
  font: {family: FONT, color: '#000', size: 17},
  showlegend: true,
  legend: {
    x: 1030 / W, y: 1 - 8 / H, xanchor: 'left', yanchor: 'top',
    bgcolor: '#fff', bordercolor: '#000', borderwidth: 1,
    font: {family: FONT, size: 19, color: '#000'},
    itemwidth: 85, tracegroupgap: 0
  },
  annotations: [],
  shapes: []
};

panelPx.forEach((py, p) => {
  const xs = p === 0 ? 'xaxis' : 'xaxis' + (p + 1);
  const ys = p === 0 ? 'yaxis' : 'yaxis' + (p + 1);
  const anchorY = p === 0 ? 'y' : 'y' + (p + 1);
  const anchorX = p === 0 ? 'x' : 'x' + (p + 1);
  layout[xs] = {
    domain: [plotLeft / W, plotRight / W], anchor: anchorY,
    range: [-145, 145], tickvals: xTickVals, ticktext: xTickText,
    showticklabels: p === 2, ticks: 'inside', ticklen: 7, tickcolor: '#000', tickwidth: 1,
    showline: true, linecolor: '#000', linewidth: 1, mirror: 'ticks',
    showgrid: true, gridcolor: '#222', gridwidth: 1, griddash: '1px,7px',
    zeroline: false, ticklabelstandoff: 2,
    tickfont: {family: FONT, size: 17, color: '#000'}
  };
  layout[ys] = {
    domain: [1 - py[1] / H, 1 - py[0] / H], anchor: anchorX,
    range: [-1, 1], tickvals: yTickVals, ticktext: yTickText,
    ticks: 'inside', ticklen: 7, tickcolor: '#000', tickwidth: 1,
    showline: true, linecolor: '#000', linewidth: 1, mirror: 'ticks',
    showgrid: true, gridcolor: '#222', gridwidth: 1, griddash: '1px,7px',
    zeroline: false, ticklabelstandoff: 8,
    tickfont: {family: FONT, size: 18, color: '#000'}
  };
  layout.annotations.push({
    xref: 'paper', yref: 'paper',
    x: (plotLeft + plotRight) / 2 / W, y: 1 - py[0] / H,
    xanchor: 'center', yanchor: 'bottom', yshift: 5,
    text: panelTitles[p], showarrow: false,
    font: {family: FONT, size: 23, color: '#000'}
  });
});

Plotly.newPlot('chart', traces, layout, {displayModeBar: false, staticPlot: true});
</script>
</body></html>
